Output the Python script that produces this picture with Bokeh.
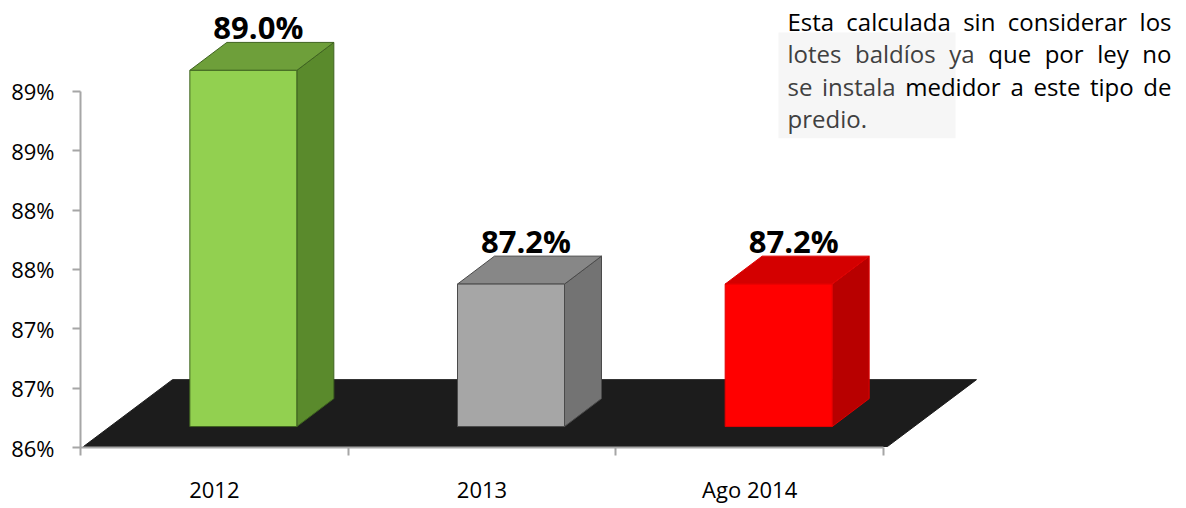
from bokeh.plotting import figure
from bokeh.models import Range1d, FixedTicker
from bokeh.core.properties import value
from bokeh.embed import file_html
from bokeh.resources import INLINE

# ---------------- data ----------------
categories = ["2012", "2013", "Ago 2014"]
values = [89.0, 87.2, 87.2]
front_colors = ["#92d050", "#a6a6a6", "#ff0000"]
top_colors = ["#6e9f3a", "#878787", "#d40000"]
side_colors = ["#5a8a2c", "#737373", "#b80000"]
edge_colors = ["#3f6320", "#4a4a4a", "#e00000"]
y_ticks = [86.0, 86.5, 87.0, 87.5, 88.0, 88.5, 89.0]
y_tick_labels = ["86%", "87%", "87%", "88%", "88%", "89%", "89%"]
note_lines = [
    ["Esta", "calculada", "sin", "considerar", "los"],
    ["lotes", "baldíos", "ya", "que", "por", "ley", "no"],
    ["se", "instala", "medidor", "a", "este", "tipo", "de"],
    ["predio."],
]
note_gray_words = {(1, 0), (1, 1), (1, 2), (2, 0), (2, 1), (3, 0)}

# ---------------- layout constants ----------------
W, H = 1180, 506
AXIS_X, AXIS_Y = 80, 448          # pixel position of the axis corner
MBL, MBT, MBR = AXIS_X, 0, 0
MBB = H - AXIS_Y
Y0 = 86.0
PX_X = 803 / 3.0      # px per category
PX_Y = 119.0          # px per 1 %
FONT = "Open Sans"

x_end = (W - MBL - MBR) / PX_X
y_end = Y0 + (AXIS_Y - MBT) / PX_Y


def dx(px):
    return px / PX_X


def dy(px):
    return px / PX_Y


def page_x(px):      # pixel -> data x
    return (px - AXIS_X) / PX_X


def page_y(py):      # pixel -> data y
    return Y0 + (AXIS_Y - py) / PX_Y


p = figure(width=W, height=H, output_backend="svg", toolbar_location=None,
           x_range=Range1d(0, x_end), y_range=Range1d(Y0, y_end),
           min_border_left=MBL, min_border_bottom=MBB, min_border_top=MBT,
           min_border_right=MBR)
p.xgrid.visible = False
p.ygrid.visible = False
p.outline_line_color = None
p.background_fill_color = "white"
p.border_fill_color = "white"

# ---------------- floor ----------------
n = len(categories)
fx0, fx1 = dx(3), n + dx(4)
fy = Y0 + dy(1)
fdx, fdy = dx(89), dy(67)
p.patch([fx0, fx1, fx1 + fdx, fx0 + fdx], [fy, fy, fy + fdy, fy + fdy],
        fill_color="#1c1c1c", line_color="#1c1c1c")

# ---------------- 3D bars ----------------
off_x, off_y = dx(29), dy(21)
hw = dx(53.5)
ddx, ddy = dx(37), dy(28)
lefts, rights, bottoms, tops = [], [], [], []
side_xs, side_ys, top_xs, top_ys = [], [], [], []
lab_x, lab_y, lab_t = [], [], []
for i, v in enumerate(values):
    cx = i + 0.5 + off_x
    b = Y0 + off_y
    t = v + off_y
    lefts.append(cx - hw)
    rights.append(cx + hw)
    bottoms.append(b)
    tops.append(t)
    side_xs.append([cx + hw, cx + hw + ddx, cx + hw + ddx, cx + hw])
    side_ys.append([b, b + ddy, t + ddy, t])
    top_xs.append([cx - hw, cx - hw + ddx, cx + hw + ddx, cx + hw])
    top_ys.append([t, t + ddy, t + ddy, t])
    lab_x.append(cx + dx(15))
    lab_y.append(t + ddy + dy(15))
    lab_t.append(f"{v:.1f}%")

p.patches(side_xs, side_ys, fill_color=side_colors, line_color=edge_colors, line_width=1)
p.patches(top_xs, top_ys, fill_color=top_colors, line_color=edge_colors, line_width=1)
p.quad(left=lefts, right=rights, bottom=bottoms, top=tops,
       fill_color=front_colors, line_color=edge_colors, line_width=1)

p.text(x=lab_x, y=lab_y, text=lab_t, text_align="center", text_baseline="alphabetic",
       text_font=value(FONT), text_font_style="bold", text_font_size="31px",
       text_color="black")

# ---------------- axes ----------------
xa = p.xaxis[0]
xa.bounds = (0, n)
xa.ticker = FixedTicker(ticks=[i + 0.5 for i in range(n)], minor_ticks=list(range(n + 1)))
xa.major_label_overrides = {i + 0.5: c for i, c in enumerate(categories)}
xa.major_tick_out = 0
xa.major_tick_in = 0
xa.minor_tick_out = 8
xa.minor_tick_in = 0
xa.axis_line_color = "#a6a6a6"
xa.axis_line_width = 2
xa.minor_tick_line_color = "#a6a6a6"
xa.minor_tick_line_width = 2
xa.major_label_text_font = FONT
xa.major_label_text_font_size = "22px"
xa.major_label_text_color = "black"
xa.major_label_standoff = 18

ya = p.yaxis[0]
ya.bounds = (y_ticks[0], y_ticks[-1])
ya.ticker = FixedTicker(ticks=y_ticks, minor_ticks=[])
ya.major_label_overrides = {t: l for t, l in zip(y_ticks, y_tick_labels)}
ya.major_tick_out = 8
ya.major_tick_in = 0
ya.axis_line_color = "#a6a6a6"
ya.axis_line_width = 2
ya.major_tick_line_color = "#a6a6a6"
ya.major_tick_line_width = 2
ya.major_label_text_font = FONT
ya.major_label_text_font_size = "22px"
ya.major_label_text_color = "black"
ya.major_label_standoff = 18

# ---------------- note text (justified) ----------------
CW = {'a': .556, 'b': .613, 'c': .476, 'd': .613, 'e': .561, 'f': .339, 'g': .548,
      'h': .614, 'i': .253, 'í': .253, 'l': .253, 'm': .930, 'n': .614, 'o': .604,
      'p': .613, 'q': .613, 'r': .408, 's': .477, 't': .353, 'u': .614, 'v': .501,
      'y': .501, 'E': .548, '.': .266}
NFS = 24
L, R = 787, 1171
base0, lh = 21, 32.5

p.quad(left=[page_x(778)], right=[page_x(955)], top=[page_y(32)], bottom=[page_y(138)],
       fill_color="#f6f6f6", line_color=None)

for li, words in enumerate(note_lines):
    widths = [sum(CW.get(ch, .55) for ch in w) * NFS for w in words]
    base = base0 + li * lh
    last = li == len(note_lines) - 1
    if len(words) > 1 and not last:
        gap = (R - L - sum(widths)) / (len(words) - 1)
    else:
        gap = NFS * 0.26
    x = L
    for wi, (w, wd) in enumerate(zip(words, widths)):
        col = "#404040" if (li, wi) in note_gray_words else "black"
        if not last and wi == len(words) - 1 and len(words) > 1:
            p.text(x=[page_x(R)], y=[page_y(base)], text=[w], text_align="right",
                   text_baseline="alphabetic", text_font=value(FONT),
                   text_font_size=f"{NFS}px", text_color=col)
        else:
            p.text(x=[page_x(x)], y=[page_y(base)], text=[w], text_align="left",
                   text_baseline="alphabetic", text_font=value(FONT),
                   text_font_size=f"{NFS}px", text_color=col)
        x += wd + gap

open("out.html", "w").write(file_html(p, INLINE))
